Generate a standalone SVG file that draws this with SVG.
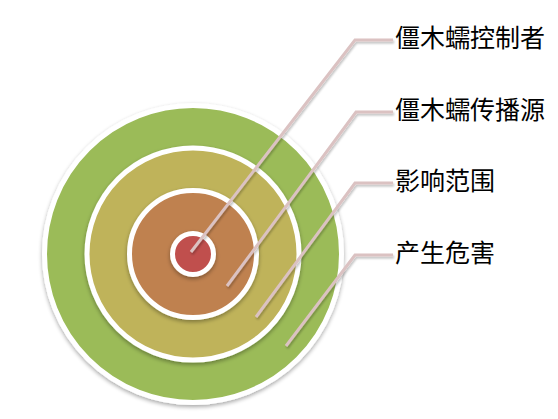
<svg xmlns="http://www.w3.org/2000/svg" width="558" height="419" viewBox="0 0 558 419">
<defs>
<filter id="sh" x="-20%" y="-20%" width="140%" height="140%">
<feGaussianBlur in="SourceAlpha" stdDeviation="2"/>
<feOffset dx="0" dy="2" result="b"/>
<feComponentTransfer><feFuncA type="linear" slope="0.35"/></feComponentTransfer>
<feMerge><feMergeNode/><feMergeNode in="SourceGraphic"/></feMerge>
</filter>
<filter id="lsh" x="-20%" y="-20%" width="140%" height="140%">
<feGaussianBlur in="SourceAlpha" stdDeviation="1"/>
<feOffset dx="1" dy="2"/>
<feComponentTransfer><feFuncA type="linear" slope="0.25"/></feComponentTransfer>
<feMerge><feMergeNode/><feMergeNode in="SourceGraphic"/></feMerge>
</filter>
</defs>
<style>
.ring{stroke:#FFFFFF;stroke-width:5;filter:url(#sh)}
.conn{fill:none;stroke:#DBC2C2;stroke-width:3;stroke-linejoin:miter;filter:url(#lsh)}
.lbl{font-family:"Noto Sans CJK SC","Liberation Serif",sans-serif;font-size:25px;fill:#000000}
</style>
<rect width="558" height="419" fill="#FFFFFF"/>
<g id="ring-outer"><circle class="ring" cx="193" cy="254" r="148.5" fill="#9BBB59"/></g>
<g id="ring-2"><circle class="ring" cx="193" cy="254" r="106" fill="#BFB35A"/></g>
<g id="ring-3"><circle class="ring" cx="193" cy="254" r="63.5" fill="#BF814F"/></g>
<g id="ring-inner"><circle class="ring" cx="193" cy="254" r="20.5" fill="#C0504D"/></g>
<g id="connectors">
<polyline class="conn" points="191,252 355,40 393,40"/>
<polyline class="conn" points="227,286 356,112 393,112"/>
<polyline class="conn" points="256,317 355,183 393,183"/>
<polyline class="conn" points="286,346 355,255 393,255"/>
</g>
<g id="label-1"><text class="lbl" x="395" y="47">僵木蠕控制者</text></g>
<g id="label-2"><text class="lbl" x="395" y="119">僵木蠕传播源</text></g>
<g id="label-3"><text class="lbl" x="395" y="190">影响范围</text></g>
<g id="label-4"><text class="lbl" x="395" y="262">产生危害</text></g>
</svg>
